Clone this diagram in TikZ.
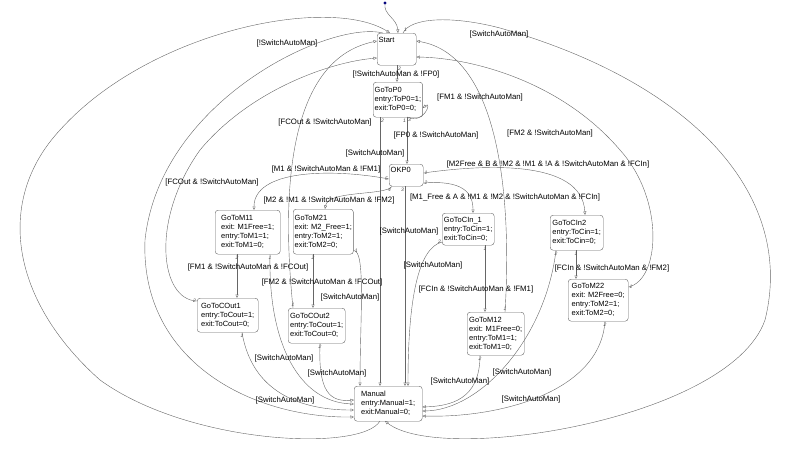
\documentclass[tikz,border=0pt]{standalone}
\usepackage{fontspec}
\setmainfont{Liberation Sans}
\usetikzlibrary{arrows.meta}
\begin{document}
\begin{tikzpicture}[x=1pt,y=-1pt,
  st/.style={draw=gray!80!black,rounded corners=3pt,anchor=north west,align=left,inner sep=1.5pt,font=\fontsize{7.5}{9}\selectfont},
  tr/.style={draw=gray!80!black,line width=0.4pt,-{Triangle[open,length=3.5pt,width=3pt]}},
  lb/.style={font=\fontsize{7.8}{8.5}\selectfont,inner sep=0.5pt},
  num/.style={font=\fontsize{5}{5}\itshape\selectfont,inner sep=1pt,text=gray!60!black}]
\useasboundingbox (0,0) rectangle (800,450);
% states
\node[st,text width=36pt,minimum height=32pt,text depth=19pt] (Start) at (377,33) {Start};
\node[st,minimum width=36pt,minimum height=35pt] (P0) at (373,82) {GoToP0\\entry:ToP0=1;\\exit:ToP0=0;};
\node[st,text width=31pt,minimum height=22pt,text depth=10pt] (OK) at (389,164) {OKP0};
\node[st,minimum width=65pt,minimum height=44pt] (M11) at (215,210) {GoToM11\\exit: M1Free=1;\\entry:ToM1=1;\\exit:ToM1=0;};
\node[st,minimum width=60pt,minimum height=45pt] (M21) at (293,209) {GoToM21\\exit: M2\_Free=1;\\entry:ToM2=1;\\exit:ToM2=0;};
\node[st,minimum width=52pt,minimum height=32pt] (C1) at (442,213) {GoToCIn\_1\\entry:ToCin=1;\\exit:ToCin=0;};
\node[st,minimum width=53pt,minimum height=35pt] (C2) at (550,215) {GoToCIn2\\entry:ToCin=1;\\exit:ToCin=0;};
\node[st,minimum width=61pt,minimum height=34pt] (O1) at (197,298) {GoToCOut1\\entry:ToCout=1;\\exit:ToCout=0;};
\node[st,minimum width=57pt,minimum height=35pt] (O2) at (288,308) {GoToCOut2\\entry:ToCout=1;\\exit:ToCout=0;};
\node[st,minimum width=57pt,minimum height=43pt] (M12) at (467,312) {GoToM12\\exit: M1Free=0;\\entry:ToM1=1;\\exit:ToM1=0;};
\node[st,minimum width=60pt,minimum height=42pt] (M22) at (568,279) {GoToM22\\exit: M2Free=0;\\entry:ToM2=1;\\exit:ToM2=0;};
\node[st,minimum width=68pt,minimum height=35pt] (Man) at (354,386) {Manual\\entry:Manual=1;\\exit:Manual=0;};
% initial
\fill[blue!50!black] (385,3) circle (1.6pt);
\coordinate (init) at (385,3);
\draw[tr] (init) .. controls (383,15) and (397,18) .. ([shift={(21,0)}]Start.north west);
% Manual -> Start outer
\draw[tr] ([shift={(26,35)}]Man.north west) .. controls (362,452) and (190,445) .. (100,380) .. controls (10,300) and (-5,200) .. (60,130) .. controls (150,30) and (330,-5) .. ([shift={(13,0)}]Start.north west);
\node[lb] at (287,43) {[!SwitchAutoMan]};
% Start -> Manual right arc
\draw[tr] ([shift={(26,0)}]Start.north west) node[num,above right]{1} .. controls (410,18) and (450,15) .. (500,28) .. controls (700,85) and (795,200) .. (765,320) .. controls (730,420) and (440,465) .. ([shift={(31,35)}]Man.north west);
\node[lb] at (499,34) {[SwitchAutoMan]};
% Start -> Manual left (outer)
\draw[tr] ([shift={(6,0)}]Start.north west) .. controls (330,20) and (160,100) .. (145,240) .. controls (140,360) and (250,418) .. ([shift={(0,31)}]Man.north west);
\node[lb] at (285,400) {[SwitchAutoMan]};
% Start -> P0
\draw[tr] ([shift={(20,0)}]Start.south west) node[num,below right]{2} -- ([shift={(24,0)}]P0.north west);
\node[lb] at (396,74) {[!SwitchAutoMan \& !FP0]};
% P0 self loop
\draw[tr] ([shift={(34,35)}]P0.north west) node[num,below right]{3} .. controls (425,125) and (432,100) .. ([shift={(0,26)}]P0.north east);
% P0 -> OKP0
\draw[tr] ([shift={(34,0)}]P0.south west) node[num,below left]{1} -- ([shift={(18,0)}]OK.north west);
\node[lb] at (436,135) {[FP0 \& !SwitchAutoMan]};
% P0 -> Manual
\draw[tr] ([shift={(7,0)}]P0.south west) node[num,below right]{2} -- ([shift={(26,0)}]Man.north west);
\node[lb] at (375,153) {[SwitchAutoMan]};
% OKP0 transitions
\draw[tr] ([shift={(0,9)}]OK.north east) node[num,right]{1} .. controls (480,165) and (582,158) .. ([shift={(35,0)}]C2.north west);
\node[lb] at (548,164) {[M2Free \& B \& !M2 \& !M1 \& !A \& !SwitchAutoMan \& !FCIn]};
\draw[tr] ([shift={(0,19)}]OK.north east) node[num,right]{2} .. controls (462,180) and (473,192) .. ([shift={(31,0)}]C1.north west);
\node[lb] at (505,197) {[M1\_Free \& A \& !M1 \& !M2 \& !SwitchAutoMan \& !FCIn]};
\draw[tr] ([shift={(16,0)}]OK.south west) node[num,below left]{3} -- ([shift={(51,0)}]Man.north west);
\node[lb] at (409,231) {[SwitchAutoMan]};
\draw[tr] ([shift={(3,0)}]OK.south west) node[num,below left]{4} .. controls (385,196) and (328,190) .. ([shift={(32,0)}]M21.north west);
\node[lb] at (329,200) {[M2 \& !M1 \& !SwitchAutoMan \& !FM2]};
\draw[tr] ([shift={(0,15)}]OK.north west) node[num,left]{5} .. controls (330,168) and (254,170) .. ([shift={(39,0)}]M11.north west);
\node[lb] at (326,169) {[M1 \& !SwitchAutoMan \& !FM1]};
% M11, M21
\draw[tr] ([shift={(22,0)}]M11.south west) node[num,below]{2} -- ([shift={(40,0)}]O1.north west);
\node[lb] at (248,267) {[FM1 \& !SwitchAutoMan \& !FCOut]};
\draw[tr] ([shift={(55,0)}]M11.south west) node[num,below]{1} .. controls (268,345) and (300,402) .. ([shift={(0,18)}]Man.north west);
\node[lb] at (284,358) {[SwitchAutoMan]};
\draw[tr] ([shift={(20,0)}]M21.south west) node[num,below]{2} -- ([shift={(25,0)}]O2.north west);
\node[lb] at (322,282) {[FM2 \& !SwitchAutoMan \& !FCOut]};
\draw[tr] ([shift={(0,-4)}]M21.south east) node[num,right]{1} .. controls (366,250) and (360,320) .. ([shift={(6,0)}]Man.north west);
\node[lb] at (350,297) {[SwitchAutoMan]};
% COut
\draw[tr] ([shift={(45,0)}]O1.south west) node[num,below]{1} .. controls (252,392) and (300,410) .. ([shift={(0,24)}]Man.north west);
\draw[tr] ([shift={(32,0)}]O2.south west) node[num,below]{2} .. controls (318,392) and (330,402) .. ([shift={(0,14)}]Man.north west);
\node[lb] at (337,373) {[SwitchAutoMan]};
\draw[tr] ([shift={(5,0)}]O2.north west) node[num,above]{1} .. controls (282,200) and (285,60) .. ([shift={(0,8)}]Start.north west);
\node[lb] at (325,122) {[FCOut \& !SwitchAutoMan]};
\draw[tr] ([shift={(0,3)}]O1.north west) node[num,left]{2} .. controls (160,300) and (150,220) .. (200,150) .. controls (250,90) and (330,62) .. ([shift={(0,25)}]Start.north west);
\node[lb] at (212,182) {[FCOut \& !SwitchAutoMan]};
% right side
\draw[tr] ([shift={(38,0)}]M12.north west) node[num,above]{1} .. controls (512,200) and (500,55) .. ([shift={(0,8)}]Start.north east);
\node[lb] at (480,97) {[FM1 \& !SwitchAutoMan]};
\draw[tr] ([shift={(0,8)}]M22.north east) node[num,right]{1} .. controls (660,280) and (665,200) .. (620,150) .. controls (560,80) and (470,58) .. ([shift={(0,24)}]Start.north east);
\node[lb] at (550,133) {[FM2 \& !SwitchAutoMan]};
\draw[tr] ([shift={(43,0)}]C1.south west) node[num,below]{1} -- ([shift={(18,0)}]M12.north west);
\node[lb] at (476,289) {[FCIn \& !SwitchAutoMan \& !FM1]};
\draw[tr] ([shift={(0,29)}]C1.north west) node[num,left]{2} .. controls (418,248) and (408,300) .. ([shift={(54,0)}]Man.north west);
\node[lb] at (433,265) {[SwitchAutoMan]};
\draw[tr] ([shift={(13,0)}]M12.south west) node[num,below]{2} .. controls (480,400) and (450,406) .. ([shift={(0,21)}]Man.north east);
\node[lb] at (460,381) {[SwitchAutoMan]};
\draw[tr] ([shift={(6,0)}]C2.south west) node[num,below]{2} .. controls (545,340) and (480,410) .. ([shift={(0,25)}]Man.north east);
\node[lb] at (522,372) {[SwitchAutoMan]};
\draw[tr] ([shift={(37,0)}]M22.south west) node[num,below]{2} .. controls (600,392) and (500,418) .. ([shift={(0,30)}]Man.north east);
\node[lb] at (531,399) {[SwitchAutoMan]};
\draw[tr] ([shift={(26,0)}]C2.south west) node[num,below]{1} -- ([shift={(8,0)}]M22.north west);
\node[lb] at (612,268) {[FCIn \& !SwitchAutoMan \& !FM2]};
\end{tikzpicture}
\end{document}
